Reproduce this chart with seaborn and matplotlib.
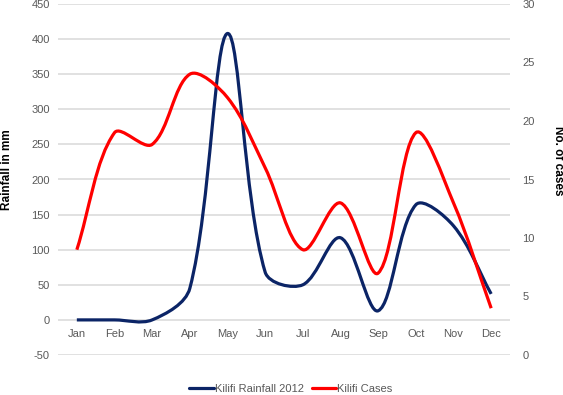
import numpy as np
import pandas as pd
import matplotlib
matplotlib.use("Agg")
import matplotlib.pyplot as plt
from matplotlib.path import Path
from matplotlib.patches import PathPatch
from matplotlib.lines import Line2D
import seaborn as sns

# data
months = ["Jan", "Feb", "Mar", "Apr", "May", "Jun", "Jul", "Aug", "Sep", "Oct", "Nov", "Dec"]
rainfall = [0, 0, 0, 45, 408, 68, 50, 117, 13, 164, 134, 37]
cases = [9, 19, 18, 24, 22, 16, 9, 13, 7, 19, 13, 4]
rain_ticks = list(range(-50, 451, 50))
case_ticks = list(range(0, 31, 5))

NAVY = "#0b2466"
RED = "#ff0000"
GREY = "#595959"

sns.set_theme(style="white")
plt.rcParams["font.family"] = ["Liberation Sans", "DejaVu Sans"]
plt.rcParams["axes.unicode_minus"] = False

df = pd.DataFrame({"pos": np.arange(len(months)), "month": months,
                   "rain": rainfall, "cases": cases})

fig = plt.figure(figsize=(5.63, 3.95), dpi=100)
ax = fig.add_axes([58 / 563, 1 - 355 / 395, (510 - 58) / 563, (355 - 4) / 395])
ax2 = ax.twinx()


def smooth(axis, line, color):
    # redraw a seaborn line as a smoothed bezier curve (chord-weighted tangents)
    pts = axis.transData.transform(line.get_xydata())
    n = len(pts)
    verts = [pts[0]]
    codes = [Path.MOVETO]
    for i in range(n - 1):
        p0, p1 = pts[max(i - 1, 0)], pts[i]
        p2, p3 = pts[i + 1], pts[min(i + 2, n - 1)]
        d01 = np.hypot(*(p1 - p0))
        d12 = np.hypot(*(p2 - p1))
        d23 = np.hypot(*(p3 - p2))
        c1 = p1 + (p2 - p0) / 3 * d12 / (d01 + d12)
        c2 = p2 - (p3 - p1) / 3 * d12 / (d12 + d23)
        verts += [c1, c2, p2]
        codes += [Path.CURVE4] * 3
    verts = axis.transData.inverted().transform(np.array(verts))
    axis.add_patch(PathPatch(Path(verts, codes), fill=False, edgecolor=color,
                             lw=2.3, capstyle="butt", joinstyle="round", zorder=3))
    line.set_visible(False)


for a in (ax, ax2):
    a.set_xlim(-0.5, 11.5)
ax.set_ylim(-50, 450)
ax2.set_ylim(0, 30)

sns.lineplot(data=df, x="pos", y="rain", ax=ax, color=NAVY, legend=False)
sns.lineplot(data=df, x="pos", y="cases", ax=ax2, color=RED, legend=False)
smooth(ax, ax.lines[-1], NAVY)
smooth(ax2, ax2.lines[-1], RED)

# left axis
ax.set_yticks(rain_ticks)
ax.yaxis.grid(True, color="#d9d9d9", lw=1.1)
ax.set_axisbelow(True)
ax.tick_params(axis="y", length=0, pad=6, labelsize=8, labelcolor=GREY)
ax.set_xticks(df["pos"])
ax.set_xticklabels(months)
ax.spines["bottom"].set_position(("data", 0))
ax.tick_params(axis="x", length=0, pad=6.5, labelsize=8, labelcolor=GREY)
ax.set_xlabel("")
ax.set_ylabel("")

# right axis
ax2.set_yticks(case_ticks)
ax2.tick_params(axis="y", length=0, pad=9, labelsize=8, labelcolor=GREY)
ax2.set_ylabel("")

for a in (ax, ax2):
    for s in a.spines.values():
        s.set_visible(False)

fig.text(7 / 563, 1 - 170 / 395, "Rainfall in mm", rotation=90, ha="center", va="center",
         fontsize=8.5, fontweight="bold", color="black")
fig.text(558 / 563, 1 - 161 / 395, "No. of cases", rotation=270, ha="center", va="center",
         fontsize=8.5, fontweight="bold", color="black")

handles = [Line2D([], [], color=NAVY, lw=2.3), Line2D([], [], color=RED, lw=2.3)]
fig.legend(handles, ["Kilifi Rainfall 2012", "Kilifi Cases"], loc="lower center",
           bbox_to_anchor=(291 / 563, -0.022), ncol=2, frameon=False, fontsize=8,
           handlelength=2.2, handletextpad=0.1, columnspacing=0.7, labelcolor=GREY)

fig.savefig("out.png", dpi=100)
